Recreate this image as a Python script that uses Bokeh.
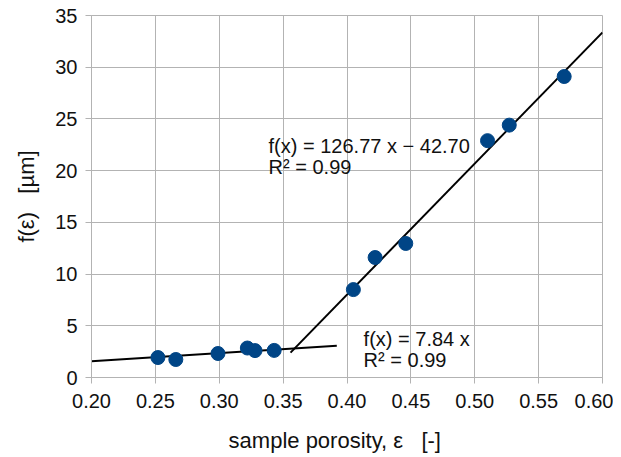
from bokeh.plotting import figure
from bokeh.models import Range1d, FixedTicker, NumeralTickFormatter, Label, ColumnDataSource
from bokeh.embed import file_html
from bokeh.resources import INLINE

# data
porosity = [0.252, 0.266, 0.299, 0.322, 0.328, 0.343, 0.405, 0.422, 0.446, 0.510, 0.527, 0.570]
f_eps = [1.93, 1.74, 2.32, 2.85, 2.6, 2.62, 8.5, 11.6, 12.96, 22.9, 24.4, 29.1]

fit1_x = [0.20, 0.392]
fit1_slope, fit1_icpt = 7.84, 0.0
fit2_x = [0.3558, 0.60]
fit2_slope, fit2_icpt = 126.77, -42.70

x_ticks = [0.20, 0.25, 0.30, 0.35, 0.40, 0.45, 0.50, 0.55, 0.60]
y_ticks = [0, 5, 10, 15, 20, 25, 30, 35]

FONT = "Liberation Sans"
GRID = "#b3b3b3"
NB = "\u00a0"

p = figure(width=613, height=455, output_backend="svg", toolbar_location=None,
           x_range=Range1d(0.2, 0.6), y_range=Range1d(0, 35),
           min_border_left=91, min_border_right=11, min_border_top=15, min_border_bottom=60)

p.outline_line_color = GRID
p.outline_line_width = 1
p.background_fill_color = "white"
p.border_fill_color = "white"

p.xaxis.ticker = FixedTicker(ticks=x_ticks)
p.yaxis.ticker = FixedTicker(ticks=y_ticks)
p.xaxis.formatter = NumeralTickFormatter(format="0.00")
p.yaxis.formatter = NumeralTickFormatter(format="0")
for ax in (p.xaxis, p.yaxis):
    ax.axis_line_color = GRID
    ax.major_tick_line_color = GRID
    ax.major_tick_out = 6
    ax.major_tick_in = 0
    ax.minor_tick_line_color = None
    ax.major_label_text_font = FONT
    ax.major_label_text_font_size = "20px"
    ax.major_label_text_color = "#111111"
    ax.axis_label_text_font = FONT
    ax.axis_label_text_font_size = "22px"
    ax.axis_label_text_font_style = "normal"
    ax.axis_label_text_color = "#111111"
p.xaxis.major_label_standoff = 10
p.yaxis.major_label_standoff = 8
p.xaxis.axis_label = "sample porosity, ε" + NB * 3 + "[-]" + NB * 4
p.yaxis.axis_label = "f(ε)" + NB * 3 + "[µm]"
p.xaxis.axis_label_standoff = 17
p.yaxis.axis_label_standoff = 13

p.xgrid.ticker = FixedTicker(ticks=x_ticks)
p.ygrid.ticker = FixedTicker(ticks=y_ticks)
p.xgrid.grid_line_color = GRID
p.ygrid.grid_line_color = GRID

# trend lines
p.line(fit1_x, [fit1_slope * x + fit1_icpt for x in fit1_x], line_color="black", line_width=2)
p.line(fit2_x, [fit2_slope * x + fit2_icpt for x in fit2_x], line_color="black", line_width=2)

src = ColumnDataSource(dict(x=porosity, y=f_eps))
p.scatter("x", "y", source=src, size=14, fill_color="#004586", line_color="#004586")

labels = [
    (0.3386, 22.4, "f(x) = 126.77 x − 42.70"),
    (0.3386, 20.4, "R² = 0.99"),
    (0.413, 3.77, "f(x) = 7.84 x"),
    (0.413, 1.74, "R² = 0.99"),
]
for lx, ly, t in labels:
    p.add_layout(Label(x=lx, y=ly, text=t, text_font=FONT, text_font_size="20px",
                       text_baseline="middle", text_color="#111111"))

open("out.html", "w").write(file_html(p, INLINE))
